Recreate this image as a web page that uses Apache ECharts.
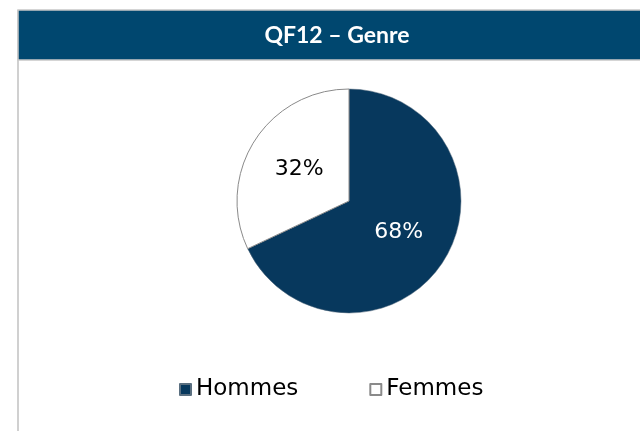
<!DOCTYPE html>
<html>
<head>
<meta charset="utf-8">
<script src="https://cdn.jsdelivr.net/npm/echarts@6/dist/echarts.min.js"></script>
<style>
html,body{margin:0;padding:0;background:#fff;}
#chart{width:640px;height:431px;}
</style>
</head>
<body>
<div id="chart"></div>
<script>
var titleText = 'QF12 – Genre';
var categories = ['Hommes', 'Femmes'];
var values = [68, 32];

var chart = echarts.init(document.getElementById('chart'), null, {renderer: 'canvas'});
var sliceStyles = [
  {color: '#07385d', borderColor: '#5a6f80', borderWidth: 0.5, labelColor: '#ffffff'},
  {color: '#ffffff', borderColor: '#8a8a8a', borderWidth: 1, labelColor: '#000000'}
];
var pieData = categories.map(function (c, i) {
  return {
    name: c,
    value: values[i],
    itemStyle: {color: sliceStyles[i].color, borderColor: sliceStyles[i].borderColor, borderWidth: sliceStyles[i].borderWidth},
    label: {color: sliceStyles[i].labelColor}
  };
});

chart.setOption({
  animation: false,
  backgroundColor: '#ffffff',
  graphic: [
    {type: 'line', shape: {x1: 18, y1: 10, x2: 18, y2: 431}, style: {stroke: '#d0d0d0', lineWidth: 2}, z: 1},
    {type: 'rect', shape: {x: 18, y: 10, width: 630, height: 50}, style: {fill: '#00476f', stroke: '#c8c8c8', lineWidth: 1.5}, z: 2},
    {type: 'text', x: 337, y: 36, style: {text: titleText, fill: '#ffffff', font: 'bold 23px Lato, "Open Sans", sans-serif', align: 'center', verticalAlign: 'middle'}, z: 3}
  ],
  legend: {
    data: categories,
    left: 174,
    top: 373,
    icon: 'rect',
    itemWidth: 11,
    itemHeight: 11,
    itemGap: 71,
    textStyle: {fontFamily: '"DejaVu Sans", sans-serif', fontSize: 23, color: '#000000'}
  },
  series: [{
    type: 'pie',
    center: [349, 201],
    radius: [0, 112],
    startAngle: 90,
    clockwise: true,
    silent: true,
    label: {
      show: true,
      position: 'inside',
      formatter: '{c}%',
      fontFamily: '"DejaVu Sans", sans-serif',
      fontSize: 22
    },
    labelLine: {show: false},
    emphasis: {disabled: true},
    data: pieData
  }]
});
</script>
</body>
</html>
